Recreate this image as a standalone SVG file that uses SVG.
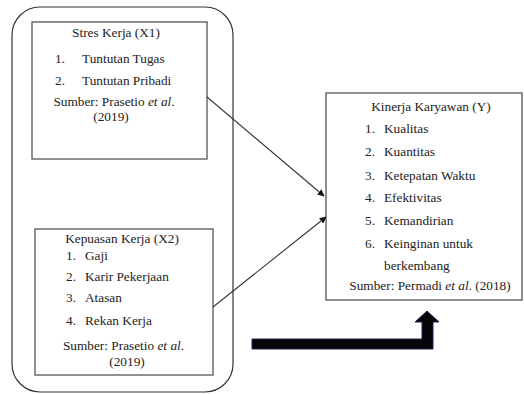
<svg xmlns="http://www.w3.org/2000/svg" width="524" height="394" viewBox="0 0 524 394">
<style>
.box{fill:#fff;stroke:#555;stroke-width:1.3}
.outer{fill:none;stroke:#333;stroke-width:1.2}
text{font-family:"Liberation Serif","Times New Roman",serif;font-size:13.3px;fill:#222}
.c{text-anchor:middle}
.conn{stroke:#333;stroke-width:1.1;fill:none;marker-end:url(#ah)}
</style>
<defs>
<marker id="ah" viewBox="0 0 10 10" refX="9" refY="5" markerWidth="7" markerHeight="7" markerUnits="userSpaceOnUse" orient="auto">
<path d="M0,0 L10,5 L0,10 z" fill="#111"/>
</marker>
</defs>
<rect width="524" height="394" fill="#fff"/>
<g id="group-x">
<rect class="outer" x="12" y="7" width="221" height="385" rx="28" ry="28"/>
</g>
<g id="x1">
<rect class="box" x="32" y="22" width="175" height="137"/>
<text class="c" x="116" y="37">Stres Kerja (X1)</text>
<text x="55" y="63">1.</text><text x="82" y="63">Tuntutan Tugas</text>
<text x="55" y="85">2.</text><text x="82" y="85">Tuntutan Pribadi</text>
<text class="c" x="114" y="105.5">Sumber: Prasetio <tspan font-style="italic">et al</tspan>.</text>
<text class="c" x="111" y="120.5">(2019)</text>
</g>
<g id="x2">
<rect class="box" x="35" y="229" width="178" height="146"/>
<text class="c" x="122" y="243">Kepuasan Kerja (X2)</text>
<text x="66" y="260">1.</text><text x="85" y="260">Gaji</text>
<text x="66" y="281">2.</text><text x="85" y="281">Karir Pekerjaan</text>
<text x="66" y="302">3.</text><text x="85" y="302">Atasan</text>
<text x="66" y="325">4.</text><text x="85" y="325">Rekan Kerja</text>
<text class="c" x="123.5" y="350">Sumber: Prasetio <tspan font-style="italic">et al</tspan>.</text>
<text class="c" x="127" y="365.5">(2019)</text>
</g>
<g id="y">
<rect class="box" x="326" y="93" width="196" height="207"/>
<text class="c" x="431" y="111">Kinerja Karyawan (Y)</text>
<text x="365" y="133">1.</text><text x="384" y="133">Kualitas</text>
<text x="365" y="156">2.</text><text x="384" y="156">Kuantitas</text>
<text x="365" y="180">3.</text><text x="384" y="180">Ketepatan Waktu</text>
<text x="365" y="202">4.</text><text x="384" y="202">Efektivitas</text>
<text x="365" y="225">5.</text><text x="384" y="225">Kemandirian</text>
<text x="365" y="248">6.</text><text x="384" y="248">Keinginan untuk</text>
<text x="384" y="270">berkembang</text>
<text class="c" x="430" y="290">Sumber: Permadi <tspan font-style="italic">et al</tspan>. (2018)</text>
</g>
<g id="connectors">
<line class="conn" x1="207" y1="97" x2="324" y2="196"/>
<line class="conn" x1="213" y1="307" x2="326" y2="217"/>
<polygon points="252,339 422,339 422,322 415,322 427,311 439,322 433,322 433,349 252,349" fill="#050508" stroke="#1c2755" stroke-width="1"/>
</g>
</svg>
